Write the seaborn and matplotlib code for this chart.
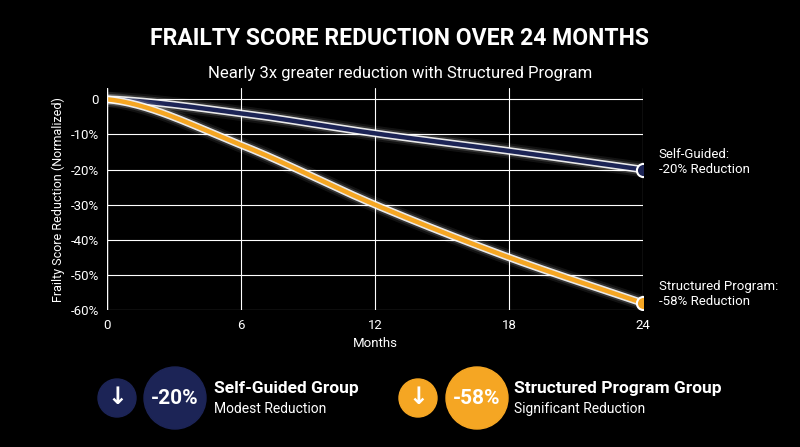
import numpy as np
import matplotlib
matplotlib.use("Agg")
import matplotlib.pyplot as plt
from matplotlib.patches import Circle
import seaborn as sns
import pandas as pd

months = [0, 6, 12, 18, 24]
self_guided = [0, -4, -9.7, -14.7, -20]
structured = [0, -13, -30, -45, -58]
yticks = [0, -10, -20, -30, -40, -50, -60]
ytick_labels = ["0", "-10%", "-20%", "-30%", "-40%", "-50%", "-60%"]
NAVY = "#1c2456"
ORANGE = "#f5a623"

sns.set_theme(style="dark")
plt.rcParams['font.family'] = ['Roboto', 'DejaVu Sans']

fig = plt.figure(figsize=(8, 4.47), dpi=100, facecolor="black")
ax = fig.add_axes([0.134, 0.306, 0.67, 0.497])
ax.set_facecolor("black")

def smooth(x, y, n=200):
    x = np.asarray(x, float); y = np.asarray(y, float)
    m = np.gradient(y, x)
    m[0] = 0.3 * (y[1] - y[0]) / (x[1] - x[0])
    xs, ys = [], []
    for i in range(len(x) - 1):
        h = x[i+1] - x[i]
        t = np.linspace(0, 1, n // (len(x)-1))
        h00 = 2*t**3 - 3*t**2 + 1; h10 = t**3 - 2*t**2 + t
        h01 = -2*t**3 + 3*t**2; h11 = t**3 - t**2
        xs.append(x[i] + t*h)
        ys.append(h00*y[i] + h10*h*m[i] + h01*y[i+1] + h11*h*m[i+1])
    return np.concatenate(xs), np.concatenate(ys)

for vals, col in [(self_guided, NAVY), (structured, ORANGE)]:
    xs, ys = smooth(months, vals)
    df = pd.DataFrame({"m": xs, "v": ys})
    for lw, a in [(11, 0.07), (8, 0.15), (5.5, 0.9)]:
        sns.lineplot(data=df, x="m", y="v", ax=ax, color="white", lw=lw, alpha=a, legend=False)
    sns.lineplot(data=df, x="m", y="v", ax=ax, color=col, lw=3.2, legend=False)
    ax.scatter([months[-1]], [vals[-1]], s=90, color=col, edgecolor="white", linewidth=1.5, zorder=5)

ax.set_xlim(0, 24)
ax.set_ylim(-60, 3.2)
ax.set_xticks(months)
ax.set_yticks(yticks)
ax.set_yticklabels(ytick_labels)
ax.tick_params(colors="white", labelsize=9.5, length=0, pad=6)
ax.grid(True, color="white", lw=0.8)
for s in ax.spines.values():
    s.set_visible(False)
ax.axvline(0, color="white", lw=1)
ax.set_xlabel("Months", color="white", fontsize=9.5)
ax.set_ylabel("Frailty Score Reduction (Normalized)", color="white", fontsize=9)

ax.text(24.7, -20 + 2.2, "Self-Guided:\n-20% Reduction", color="white", fontsize=9.5, va="center", clip_on=False)
ax.text(24.7, -58 + 2.5, "Structured Program:\n-58% Reduction", color="white", fontsize=9.5, va="center", clip_on=False)

fig.text(0.5, 0.9, "FRAILTY SCORE REDUCTION OVER 24 MONTHS", color="white", fontsize=16.5,
         fontweight="bold", ha="center")
fig.text(0.5, 0.825, "Nearly 3x greater reduction with Structured Program", color="white", fontsize=12, ha="center")

W, H = 800, 447
def circ(px, py, r, col):
    c = Circle(((px)/100, (H-py)/100), r/100, transform=fig.dpi_scale_trans, color=col)
    fig.patches.append(c)

circ(117, 398, 19, NAVY)
circ(175, 398, 31, NAVY)
circ(418, 398, 19, ORANGE)
circ(477, 398, 31, ORANGE)
fig.text(117/W, 1-398/H, "↓", color="white", fontsize=17, fontweight="bold", ha="center", va="center")
fig.text(418/W, 1-398/H, "↓", color="white", fontsize=17, fontweight="bold", ha="center", va="center")
fig.text(175/W, 1-398/H, "-20%", color="white", fontsize=15, fontweight="bold", ha="center", va="center")
fig.text(477/W, 1-398/H, "-58%", color="white", fontsize=15, fontweight="bold", ha="center", va="center")
fig.text(214/W, 1-388/H, "Self-Guided Group", color="white", fontsize=12.5, fontweight="bold", va="center")
fig.text(214/W, 1-409/H, "Modest Reduction", color="white", fontsize=10, va="center")
fig.text(514/W, 1-388/H, "Structured Program Group", color="white", fontsize=12.5, fontweight="bold", va="center")
fig.text(514/W, 1-409/H, "Significant Reduction", color="white", fontsize=10, va="center")

fig.savefig("out.png", dpi=100, facecolor="black")
